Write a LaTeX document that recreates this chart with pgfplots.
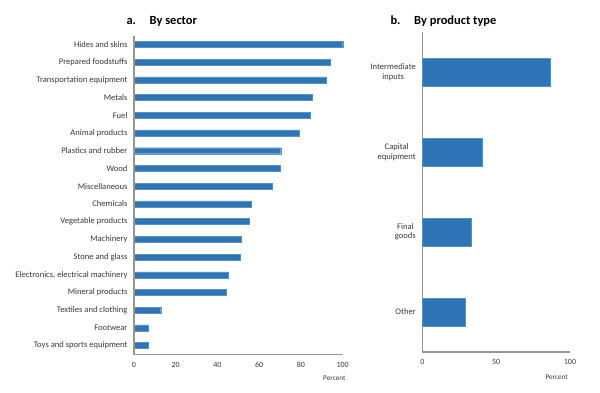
\documentclass[border=0pt]{standalone}
\usepackage{pgfplots}
\pgfplotsset{compat=1.18}
\usepackage{fontspec}
\setmainfont{Carlito}
\definecolor{barblue}{RGB}{46,117,182}
\definecolor{axgray}{RGB}{150,150,150}
\begin{document}
\begin{tikzpicture}[x=1bp,y=1bp]
\path (0,0) rectangle (600,-392);
\pgfplotsset{
  common/.style={
    scale only axis, clip=false,
    axis lines*=left,
    axis line style={axgray, line width=1.5bp},
    major tick length=0pt,
    xmin=0, xmax=100,
    ymin=-0.5,
    ytick=data,
    tick label style={font=\fontsize{8.6}{9.5}\selectfont, text=black!78},
    xticklabel style={font=\fontsize{8}{9}\selectfont, yshift=-4bp},
    /pgf/number format/assume math mode=true,
    xbar, bar shift=0pt,
    yticklabel style={xshift=-3bp},
  }
}
\begin{axis}[common,
  at={(134bp,-354.5bp)}, anchor=south west,
  width=208.7bp, height=319bp,
  ymax=17.5,
  xtick={0,20,40,60,80,100},
  yticklabels={Toys and sports equipment, Footwear, Textiles and clothing, Mineral products, {Electronics, electrical machinery}, Stone and glass, Machinery, Vegetable products, Chemicals, Miscellaneous, Wood, Plastics and rubber, Animal products, Fuel, Metals, Transportation equipment, Prepared foodstuffs, Hides and skins},
  bar width=6bp,
]
\addplot[fill=barblue, draw=barblue!80!white] coordinates {
(6.9,0) (7,1) (12.8,2) (44,3) (45.1,4) (51,5) (51.5,6) (55,7) (56,8) (66.3,9) (69.9,10) (70.3,11) (79,12) (84.5,13) (85.5,14) (91.9,15) (94,16) (100,17)
};
\draw[axgray, line width=1.5bp] (rel axis cs:0,0) -- (rel axis cs:0,1);
\node[anchor=north, font=\fontsize{7.2}{8}\selectfont, text=black!78] at (rel axis cs:0.96,0) [yshift=-18bp] {Percent};
\end{axis}
\begin{axis}[common,
  at={(422.3bp,-352bp)}, anchor=south west,
  width=147.7bp, height=320bp,
  ymax=3.5,
  xtick={0,50,100},
  yticklabels={Other, {Final\\goods}, {Capital\\equipment}, {Intermediate\\inputs}},
  yticklabel style={align=center},
  bar width=28bp,
]
\addplot[fill=barblue, draw=barblue!80!white] coordinates {
(29,0) (33,1) (40.4,2) (86.5,3)
};
\node[anchor=north, font=\fontsize{7.2}{8}\selectfont, text=black!78] at (rel axis cs:0.91,0) [yshift=-19bp] {Percent};
\end{axis}
\node[anchor=west, font=\fontsize{12.5}{14}\selectfont\bfseries] at (123bp,-21bp) {a.\hspace{1.1em}By sector};
\node[anchor=west, font=\fontsize{12.5}{14}\selectfont\bfseries] at (387bp,-21bp) {b.\hspace{1.1em}By product type};
\end{tikzpicture}
\end{document}
